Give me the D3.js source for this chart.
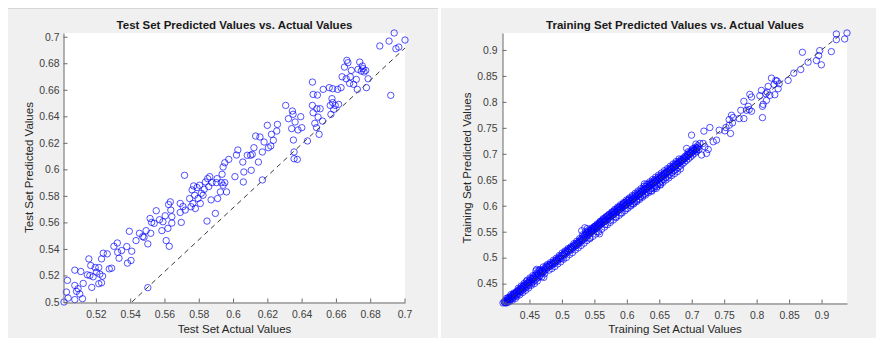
<!DOCTYPE html>
<html>
<head>
<meta charset="utf-8">
<script src="https://cdn.jsdelivr.net/npm/d3@7"></script>
<style>
  html, body { margin: 0; padding: 0; background: #fff; }
  svg { display: block; font-family: "Liberation Sans", Arial, Helvetica, sans-serif; }
</style>
</head>
<body>
<div id="chart"></div>
<script>
// test set: [actual, predicted]
const testPoints = [
  [0.5014,0.5000],[0.5028,0.5075],[0.5034,0.5163],[0.5038,0.5030],[0.5077,0.5240],[0.5077,0.5125],[0.5077,0.5018],[0.5087,0.5080],[0.5096,0.5100],[0.5106,0.5060],
  [0.5112,0.5230],[0.5126,0.5140],[0.5122,0.5025],[0.5150,0.5205],[0.5159,0.5325],[0.5165,0.5200],[0.5170,0.5275],[0.5176,0.5110],[0.5184,0.5190],[0.5196,0.5260],
  [0.5203,0.5225],[0.5217,0.5260],[0.5217,0.5138],[0.5223,0.5210],[0.5233,0.5325],[0.5233,0.5145],[0.5243,0.5368],[0.5239,0.5195],[0.5266,0.5363],[0.5278,0.5250],
  [0.5292,0.5255],[0.5305,0.5420],[0.5325,0.5445],[0.5327,0.5375],[0.5335,0.5330],[0.5350,0.5388],[0.5380,0.5418],[0.5384,0.5293],[0.5395,0.5533],[0.5405,0.5313],
  [0.5409,0.5383],[0.5434,0.5463],[0.5454,0.5518],[0.5473,0.5493],[0.5481,0.5488],[0.5493,0.5538],[0.5503,0.5438],[0.5503,0.5108],[0.5516,0.5630],[0.5520,0.5518],
  [0.5525,0.5600],[0.5540,0.5593],[0.5552,0.5688],[0.5571,0.5620],[0.5585,0.5538],[0.5591,0.5605],[0.5604,0.5650],[0.5610,0.5463],[0.5620,0.5555],[0.5624,0.5735],
  [0.5628,0.5420],[0.5634,0.5755],[0.5637,0.5693],[0.5643,0.5643],[0.5643,0.5595],[0.5692,0.5743],[0.5692,0.5675],[0.5698,0.5600],[0.5708,0.5720],[0.5717,0.5955],
  [0.5721,0.5693],[0.5747,0.5780],[0.5755,0.5718],[0.5761,0.5845],[0.5766,0.5743],[0.5770,0.5875],[0.5776,0.5805],[0.5780,0.5705],[0.5790,0.5863],[0.5796,0.5780],
  [0.5805,0.5880],[0.5809,0.5743],[0.5815,0.5820],[0.5825,0.5805],[0.5832,0.5850],[0.5839,0.5905],[0.5848,0.5610],[0.5852,0.5930],[0.5858,0.5870],[0.5864,0.5945],
  [0.5872,0.5770],[0.5877,0.5900],[0.5897,0.5668],[0.5903,0.5900],[0.5907,0.5930],[0.5910,0.5780],[0.5926,0.5830],[0.5932,0.5900],[0.5936,0.5963],[0.5942,0.5880],
  [0.5952,0.5900],[0.5962,0.5830],[0.6011,0.5945],[0.6060,0.5905],[0.6063,0.5980],[0.6106,0.5993],[0.6171,0.5920],
  [0.5942,0.6018],[0.5952,0.6050],[0.5975,0.6075],[0.6020,0.6108],[0.6028,0.6146],[0.6057,0.6055],[0.6083,0.6106],[0.6102,0.6106],[0.6112,0.6113],[0.6122,0.6163],
  [0.6132,0.6251],[0.6148,0.6055],[0.6157,0.6244],[0.6171,0.6131],[0.6181,0.6206],[0.6200,0.6332],[0.6206,0.6163],[0.6220,0.6176],[0.6224,0.6264],[0.6235,0.6219],
  [0.6255,0.6289],[0.6259,0.6339],[0.6307,0.6482],[0.6323,0.6382],[0.6342,0.6307],[0.6346,0.6440],[0.6350,0.6415],[0.6352,0.6221],[0.6356,0.6131],[0.6362,0.6357],
  [0.6356,0.6080],[0.6375,0.6075],[0.6379,0.6297],[0.6395,0.6397],[0.6401,0.6314],[0.6434,0.6214],[0.6463,0.6658],[0.6467,0.6565],[0.6463,0.6482],[0.6467,0.6427],
  [0.6477,0.6347],[0.6487,0.6314],[0.6489,0.6457],[0.6492,0.6560],[0.6496,0.6394],[0.6502,0.6264],[0.6508,0.6457],[0.6522,0.6364],[0.6526,0.6603],[0.6561,0.6616],
  [0.6567,0.6482],[0.6571,0.6415],[0.6577,0.6533],[0.6581,0.6608],[0.6581,0.6503],[0.6587,0.6452],[0.6596,0.6482],[0.6610,0.6603],[0.6616,0.6490],[0.6630,0.6616],
  [0.6636,0.6698],[0.6650,0.6771],[0.6660,0.6683],[0.6664,0.6822],[0.6670,0.6804],[0.6680,0.6648],[0.6684,0.6698],[0.6690,0.6746],[0.6703,0.6641],[0.6719,0.6678],
  [0.6725,0.6603],[0.6729,0.6754],[0.6739,0.6809],[0.6748,0.6741],[0.6754,0.6779],[0.6758,0.6759],[0.6764,0.6734],[0.6774,0.6746],[0.6778,0.6616],[0.6788,0.6683],
  [0.6856,0.6930],[0.6910,0.6967],[0.6920,0.6558],[0.6940,0.7028],[0.6950,0.6910],[0.6967,0.6922],[0.7003,0.6975]
];

// training set: [actual, predicted]
const trainPoints = [
  [0.4092,0.4128],[0.4112,0.4151],[0.4118,0.4133],[0.4126,0.4170],[0.4131,0.4139],[0.4140,0.4127],[0.4148,0.4182],[0.4155,0.4160],[0.4163,0.4140],[0.4171,0.4195],
  [0.4180,0.4221],[0.4186,0.4172],[0.4195,0.4208],[0.4203,0.4247],[0.4210,0.4189],[0.4218,0.4236],[0.4225,0.4268],[0.4233,0.4212],[0.4241,0.4255],[0.4250,0.4290],
  [0.4258,0.4240],[0.4266,0.4301],[0.4273,0.4282],[0.4281,0.4319],[0.4290,0.4266],[0.4298,0.4330],[0.4305,0.4352],[0.4313,0.4298],[0.4322,0.4345],[0.4330,0.4371],
  [0.4338,0.4317],[0.4347,0.4389],[0.4355,0.4362],[0.4362,0.4410],[0.4370,0.4348],[0.4379,0.4403],[0.4387,0.4431],[0.4396,0.4380],[0.4404,0.4452],[0.4411,0.4420],
  [0.4420,0.4468],[0.4428,0.4409],[0.4437,0.4486],[0.4445,0.4455],[0.4452,0.4540],[0.4461,0.4438],[0.4470,0.4512],[0.4478,0.4495],[0.4486,0.4530],[0.4495,0.4470],
  [0.4503,0.4558],[0.4511,0.4521],[0.4520,0.4590],[0.4528,0.4549],[0.4537,0.4512],[0.4545,0.4601],[0.4553,0.4580],[0.4562,0.4628],[0.4570,0.4545],[0.4579,0.4612],
  [0.4587,0.4660],[0.4596,0.4582],[0.4604,0.4641],[0.4612,0.4703],[0.4621,0.4610],[0.4629,0.4672],[0.4638,0.4695],[0.4646,0.4628],[0.4655,0.4738],[0.4663,0.4650],
  [0.4672,0.4711],[0.4680,0.4688],[0.4690,0.4752],[0.4699,0.4735],[0.4708,0.4708],[0.4720,0.4779],[0.4733,0.4752],[0.4745,0.4801],[0.4758,0.4770],[0.4770,0.4828],
  [0.4782,0.4809],[0.4795,0.4850],[0.4807,0.4832],[0.4818,0.4870],[0.4831,0.4841],[0.4845,0.4889],[0.4858,0.4868],[0.4870,0.4915],[0.4883,0.4890],[0.4895,0.4935],
  [0.4908,0.4918],[0.4920,0.4962],[0.4933,0.4940],[0.4945,0.4990],[0.4957,0.4969],[0.4968,0.5015],[0.4980,0.4991],[0.4992,0.5038],[0.5003,0.4985],[0.5015,0.5060],
  [0.5025,0.5046],[0.5037,0.5090],[0.5048,0.5068],[0.5060,0.5118],[0.5072,0.5091],[0.5083,0.5136],[0.5095,0.5110],[0.5106,0.5162],[0.5118,0.5138],[0.5130,0.5180],
  [0.5142,0.5160],[0.5153,0.5201],[0.5165,0.5182],[0.5176,0.5228],[0.5188,0.5205],[0.5199,0.5250],[0.5210,0.5230],[0.5221,0.5272],[0.5232,0.5240],[0.5243,0.5290],
  [0.5254,0.5268],[0.5265,0.5318],[0.5276,0.5292],[0.5287,0.5345],[0.5298,0.5320],[0.5309,0.5372],[0.5318,0.5335],[0.5328,0.5401],[0.5337,0.5360],[0.5346,0.5430],
  [0.5355,0.5382],[0.5363,0.5452],[0.5372,0.5399],[0.5380,0.5471],[0.5389,0.5420],[0.5397,0.5488],[0.5405,0.5440],[0.5413,0.5505],[0.5421,0.5458],[0.5429,0.5382],
  [0.5437,0.5480],[0.5445,0.5529],[0.5453,0.5497],[0.5461,0.5548],[0.5469,0.5512],[0.5477,0.5565],[0.5485,0.5530],[0.5493,0.5581],[0.5501,0.5545],[0.5509,0.5600],
  [0.5517,0.5561],[0.5525,0.5618],[0.5533,0.5578],[0.5541,0.5502],[0.5549,0.5595],[0.5557,0.5640],[0.5565,0.5608],[0.5573,0.5660],[0.5581,0.5625],[0.5589,0.5678],
  [0.5597,0.5641],[0.5605,0.5695],[0.5613,0.5658],[0.5621,0.5712],[0.5629,0.5675],[0.5637,0.5730],[0.5645,0.5690],[0.5653,0.5748],[0.5661,0.5705],[0.5669,0.5640],
  [0.5677,0.5722],[0.5685,0.5781],[0.5693,0.5738],[0.5701,0.5798],[0.5709,0.5752],[0.5717,0.5810],[0.5725,0.5768],[0.5733,0.5825],[0.5741,0.5785],[0.5749,0.5720],
  [0.5757,0.5800],[0.5765,0.5858],[0.5773,0.5815],[0.5781,0.5872],[0.5789,0.5830],[0.5797,0.5890],[0.5805,0.5848],[0.5813,0.5905],[0.5821,0.5862],[0.5829,0.5790],
  [0.5837,0.5878],[0.5845,0.5932],[0.5853,0.5895],[0.5861,0.5951],[0.5869,0.5910],[0.5877,0.5970],[0.5885,0.5925],[0.5893,0.5982],[0.5901,0.5940],[0.5909,0.5860],
  [0.5917,0.5958],[0.5925,0.6010],[0.5933,0.5972],[0.5941,0.6030],[0.5949,0.5985],[0.5957,0.6045],[0.5965,0.6000],[0.5973,0.6062],[0.5981,0.6015],[0.5989,0.5945],
  [0.5997,0.6032],[0.6005,0.6090],[0.6013,0.6048],[0.6021,0.6108],[0.6029,0.6062],[0.6037,0.6125],[0.6045,0.6078],[0.6053,0.6010],[0.6061,0.6095],[0.6069,0.6150],
  [0.6077,0.6108],[0.6085,0.6040],[0.6093,0.6125],[0.6101,0.6180],[0.6109,0.6140],[0.6117,0.6070],[0.6125,0.6158],[0.6133,0.6210],[0.6141,0.6172],[0.6149,0.6105],
  [0.6157,0.6190],[0.6165,0.6245],[0.6173,0.6205],[0.6181,0.6140],[0.6189,0.6222],[0.6197,0.6270],[0.6205,0.6238],[0.6213,0.6170],[0.6221,0.6255],[0.6229,0.6300],
  [0.6237,0.6270],[0.6245,0.6200],[0.6253,0.6288],[0.6261,0.6335],[0.6269,0.6302],[0.6277,0.6230],[0.6285,0.6320],[0.6293,0.6372],[0.6301,0.6335],[0.6309,0.6262],
  [0.6317,0.6350],[0.6325,0.6405],[0.6333,0.6365],[0.6341,0.6290],[0.6349,0.6382],[0.6357,0.6430],[0.6365,0.6398],[0.6373,0.6330],[0.6381,0.6412],[0.6389,0.6458],
  [0.6397,0.6425],[0.6405,0.6355],[0.6413,0.6440],[0.6421,0.6488],[0.6429,0.6455],[0.6437,0.6380],[0.6445,0.6470],[0.6453,0.6515],[0.6461,0.6485],[0.6469,0.6405],
  [0.6477,0.6500],[0.6485,0.6548],[0.6493,0.6515],[0.6501,0.6440],[0.6509,0.6530],[0.6517,0.6575],[0.6525,0.6545],[0.6533,0.6475],[0.6541,0.6562],[0.6549,0.6600],
  [0.6557,0.6578],[0.6565,0.6505],[0.6573,0.6595],[0.6581,0.6632],[0.6589,0.6610],[0.6597,0.6540],[0.6605,0.6625],[0.6613,0.6662],[0.6621,0.6640],[0.6629,0.6570],
  [0.6637,0.6655],[0.6645,0.6700],[0.6653,0.6672],[0.6661,0.6605],[0.6669,0.6690],[0.6677,0.6728],[0.6685,0.6705],[0.6693,0.6640],[0.6701,0.6720],[0.6709,0.6762],
  [0.6717,0.6738],[0.6725,0.6672],[0.6733,0.6755],[0.6741,0.6800],[0.6749,0.6770],[0.6757,0.6700],[0.6765,0.6790],[0.6773,0.6825],[0.6781,0.6800],[0.6789,0.6735],
  [0.6797,0.6818],[0.6805,0.6858],[0.6813,0.6832],[0.6821,0.6765],[0.6829,0.6850],[0.6837,0.6890],[0.6845,0.6862],[0.6853,0.6800],[0.6861,0.6880],[0.6869,0.6920],
  [0.6877,0.6895],[0.6885,0.6835],[0.6893,0.6912],[0.6901,0.6955],[0.6909,0.6930],[0.6917,0.6870],[0.6925,0.6948],[0.6933,0.6990],[0.6941,0.6965],[0.6949,0.6905],
  [0.6957,0.6980],[0.6965,0.7025],[0.6973,0.6998],[0.6981,0.6940],[0.6989,0.7015],[0.6997,0.7060],[0.7005,0.7030],[0.7013,0.6975],[0.7021,0.7050],[0.7029,0.7092],
  [0.7037,0.7065],[0.7045,0.7010],[0.7053,0.7082],[0.7061,0.7125],[0.7069,0.7098],[0.7077,0.7045],[0.7085,0.7112],[0.7093,0.7158],[0.7101,0.7130],[0.7109,0.7080],
  // wider scatter around the diagonal
  [0.4145,0.4215],[0.4168,0.4230],[0.4190,0.4152],[0.4214,0.4290],[0.4236,0.4180],[0.4259,0.4320],[0.4283,0.4215],[0.4305,0.4255],[0.4328,0.4410],[0.4350,0.4285],
  [0.4373,0.4455],[0.4396,0.4330],[0.4418,0.4505],[0.4441,0.4372],[0.4463,0.4565],[0.4486,0.4415],[0.4508,0.4610],[0.4531,0.4470],[0.4553,0.4655],[0.4576,0.4500],
  [0.4599,0.4745],[0.4621,0.4550],[0.4644,0.4760],[0.4666,0.4770],[0.4689,0.4630],[0.4711,0.4820],[0.4734,0.4690],[0.4756,0.4840],[0.4779,0.4870],[0.4801,0.4760],
  [0.4824,0.4905],[0.4846,0.4790],[0.4869,0.4950],[0.4891,0.4830],[0.4914,0.4990],[0.4936,0.4880],[0.4959,0.5040],[0.4981,0.4920],[0.5004,0.5090],[0.5026,0.4970],
  [0.5049,0.5130],[0.5071,0.5005],[0.5094,0.5175],[0.5116,0.5060],[0.5139,0.5210],[0.5161,0.5095],[0.5184,0.5270],[0.5206,0.5150],[0.5229,0.5315],[0.5251,0.5190],
  [0.5274,0.5370],[0.5296,0.5235],[0.5319,0.5440],[0.5341,0.5280],[0.5364,0.5500],[0.5386,0.5330],[0.5409,0.5530],[0.5431,0.5365],[0.5454,0.5565],[0.5476,0.5410],
  [0.5499,0.5600],[0.5521,0.5455],[0.5544,0.5650],[0.5566,0.5495],[0.5589,0.5700],[0.5611,0.5545],[0.5634,0.5750],[0.5656,0.5590],[0.5679,0.5790],[0.5701,0.5635],
  [0.5724,0.5835],[0.5746,0.5680],[0.5769,0.5880],[0.5791,0.5725],[0.5814,0.5930],[0.5836,0.5770],[0.5859,0.5975],[0.5881,0.5815],[0.5904,0.6020],[0.5926,0.5860],
  [0.5949,0.6060],[0.5971,0.5905],[0.5994,0.6110],[0.6016,0.5950],[0.6039,0.6150],[0.6061,0.5995],[0.6084,0.6195],[0.6106,0.6035],[0.6129,0.6240],[0.6151,0.6080],
  [0.6174,0.6285],[0.6196,0.6120],[0.6219,0.6330],[0.6241,0.6165],[0.6264,0.6375],[0.6286,0.6205],[0.6309,0.6420],[0.6331,0.6250],[0.6354,0.6460],[0.6376,0.6290],
  [0.6399,0.6505],[0.6421,0.6330],[0.6444,0.6550],[0.6466,0.6370],[0.6489,0.6590],[0.6511,0.6410],[0.6534,0.6630],[0.6556,0.6450],[0.6579,0.6675],[0.6601,0.6495],
  [0.6624,0.6715],[0.6646,0.6535],[0.6669,0.6760],[0.6691,0.6580],[0.6714,0.6805],[0.6736,0.6620],[0.6759,0.6850],[0.6781,0.6660],[0.6804,0.6900],[0.6826,0.6710],
  // a few stray points off the band
  [0.4610,0.4775],[0.4720,0.4620],[0.5305,0.5520],[0.5352,0.5575],[0.5390,0.5560],[0.5580,0.5460],[0.6270,0.6420],[0.6385,0.6280],[0.6455,0.6335],[0.6520,0.6400],
  // sparse upper part
  [0.9228,0.9307],[0.9392,0.9326],[0.9228,0.9198],[0.9356,0.9211],[0.9151,0.8968],[0.8972,0.8987],[0.8956,0.8891],[0.8921,0.8796],[0.8997,0.8713],[0.8792,0.8764],
  [0.8705,0.8955],[0.8679,0.8623],[0.8572,0.8553],[0.8485,0.8413],[0.8346,0.8349],[0.8228,0.8457],[0.8295,0.8413],[0.8331,0.8253],[0.8315,0.8400],[0.8269,0.8336],
  [0.8177,0.8298],[0.8162,0.8189],[0.8203,0.8125],[0.8074,0.8221],[0.8141,0.8157],[0.8049,0.8119],[0.8280,0.8138],[0.8151,0.8029],[0.8100,0.7953],[0.8090,0.7914],
  [0.8090,0.7697],[0.7895,0.8144],[0.7921,0.8093],[0.7803,0.8010],[0.7870,0.7914],[0.7885,0.7851],[0.7921,0.7819],[0.7844,0.7838],[0.7756,0.7838],[0.7803,0.7678],
  [0.7731,0.7678],[0.7638,0.7697],[0.7613,0.7742],[0.7577,0.7659],[0.7628,0.7595],[0.7577,0.7550],[0.7526,0.7506],[0.7597,0.7391],[0.7510,0.7442],[0.7423,0.7455],
  [0.7279,0.7506],[0.7187,0.7436],[0.7382,0.7263],[0.7331,0.7231],[0.6997,0.7359],[0.7126,0.7200],[0.7177,0.7200],[0.7064,0.7187],[0.7023,0.7103],[0.7074,0.7071],
  [0.6921,0.7103],[0.6946,0.7040],[0.7203,0.7135],[0.7151,0.6976],[0.7254,0.7084],[0.7228,0.7008]
];

// dashed reference lines: [x, y] end points
const testLine = [[0.5410,0.5000],[0.7003,0.6915]];
const trainLine = [[0.4127,0.4127],[0.9300,0.9300]];

const testXTicks = [0.52,0.54,0.56,0.58,0.6,0.62,0.64,0.66,0.68,0.7];
const testYTicks = [0.5,0.52,0.54,0.56,0.58,0.6,0.62,0.64,0.66,0.68,0.7];
const trainXTicks = [0.45,0.5,0.55,0.6,0.65,0.7,0.75,0.8,0.85,0.9];
const trainYTicks = [0.45,0.5,0.55,0.6,0.65,0.7,0.75,0.8,0.85,0.9];

const W = 876, H = 338;
const svg = d3.select('#chart').append('svg').attr('width', W).attr('height', H);

// figure backgrounds
svg.append('rect').attr('x', 8).attr('y', 8).attr('width', 430).attr('height', H - 8).attr('fill', '#f0f0f0');
svg.append('rect').attr('x', 441).attr('y', 8).attr('width', W - 441).attr('height', H - 8).attr('fill', '#f0f0f0');
svg.append('line').attr('x1', 8).attr('x2', 438).attr('y1', 8.5).attr('y2', 8.5).attr('stroke', '#d6d6d6');

function drawPanel(o) {
  const g = svg.append('g');
  const x = d3.scaleLinear().domain(d3.extent(o.points, d => d[0])).range([o.left, o.right]);
  const y = d3.scaleLinear().domain(d3.extent(o.points, d => d[1])).range([o.bottom, o.top]);

  g.append('rect').attr('x', o.left).attr('y', o.top)
    .attr('width', o.right - o.left).attr('height', o.bottom - o.top).attr('fill', '#fff');

  g.append('g').selectAll('circle')
    .data(o.points).enter().append('circle')
    .attr('cx', d => x(d[0])).attr('cy', d => y(d[1])).attr('r', 3.2)
    .attr('fill', 'none').attr('stroke', '#0000ff').attr('stroke-width', 0.9).attr('stroke-opacity', 0.75);

  g.append('path').datum(o.line)
    .attr('d', d3.line().x(d => x(d[0])).y(d => y(d[1])))
    .attr('fill', 'none').attr('stroke', '#3a3a3a').attr('stroke-width', 1)
    .attr('stroke-dasharray', '5,4');

  const xAxis = d3.axisBottom(x).tickValues(o.xTicks).tickFormat(d => String(d))
    .tickSizeInner(-4).tickSizeOuter(0).tickPadding(8);
  const yAxis = d3.axisLeft(y).tickValues(o.yTicks).tickFormat(d => String(d))
    .tickSizeInner(-4).tickSizeOuter(0).tickPadding(o.yPad);

  const gx = g.append('g').attr('transform', `translate(0,${o.bottom + 0.5})`).call(xAxis);
  const gy = g.append('g').attr('transform', `translate(${o.left - 0.5},0)`).call(yAxis);
  [gx, gy].forEach(a => {
    a.select('.domain').attr('stroke', '#6a6a6a');
    a.selectAll('.tick line').attr('stroke', '#6a6a6a');
    a.selectAll('.tick text').attr('fill', '#404040')
      .style('font-size', '10.4px').style('font-family', '"Liberation Sans", Arial, sans-serif');
  });

  const cx = (o.left + o.right) / 2;
  g.append('text').attr('x', cx).attr('y', 29).attr('text-anchor', 'middle')
    .style('font-size', '11.5px').style('font-weight', 'bold').attr('fill', '#1a1a1a')
    .text(o.title);
  g.append('text').attr('x', cx).attr('y', 333).attr('text-anchor', 'middle')
    .style('font-size', '11.5px').attr('fill', '#262626')
    .text(o.xLabel);
  g.append('text').attr('transform', `translate(${o.yLabelX},${(o.top + o.bottom) / 2}) rotate(-90)`)
    .attr('text-anchor', 'middle').attr('dy', '0.35em')
    .style('font-size', '11.5px').attr('fill', '#262626')
    .text(o.yLabel);
}

drawPanel({
  points: testPoints, line: testLine,
  left: 64, right: 405, top: 33, bottom: 302,
  xTicks: testXTicks, yTicks: testYTicks, yPad: 4, yLabelX: 29,
  title: 'Test Set Predicted Values vs. Actual Values',
  xLabel: 'Test Set Actual Values',
  yLabel: 'Test Set Predicted Values'
});

drawPanel({
  points: trainPoints, line: trainLine,
  left: 503, right: 847, top: 33, bottom: 303,
  xTicks: trainXTicks, yTicks: trainYTicks, yPad: 5, yLabelX: 467,
  title: 'Training Set Predicted Values vs. Actual Values',
  xLabel: 'Training Set Actual Values',
  yLabel: 'Training Set Predicted Values'
});
</script>
</body>
</html>
